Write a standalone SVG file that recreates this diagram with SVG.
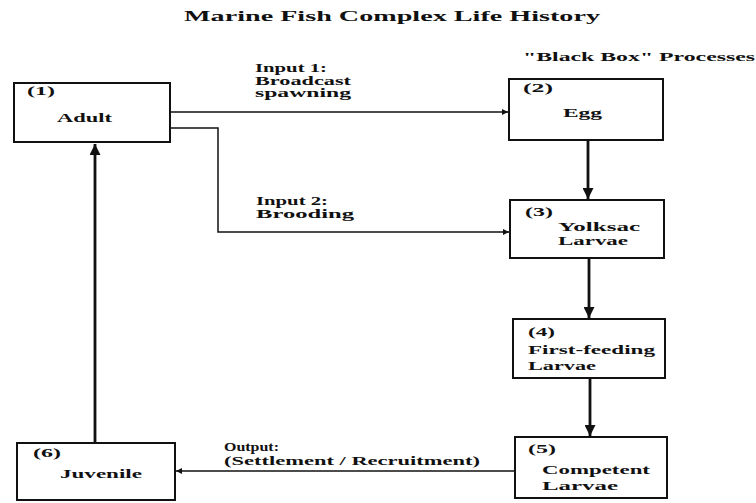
<svg xmlns="http://www.w3.org/2000/svg" width="756" height="503" viewBox="0 0 756 503">
<style>
text{font-family:"Liberation Serif","Times New Roman",serif;font-weight:bold;fill:#111;font-size:13px}
.title{font-size:15px}
.lbl{font-size:11.5px}
.box{fill:#fff;stroke:#111;stroke-width:2}
.thin{fill:none;stroke:#111;stroke-width:1.5}
.thick{fill:none;stroke:#111;stroke-width:2.8}
</style>
<defs>
<marker id="ah" viewBox="0 0 10 10" refX="10" refY="5" markerWidth="12" markerHeight="6" markerUnits="userSpaceOnUse" orient="auto"><path d="M0,0L10,5L0,10z" fill="#111"/></marker>
<marker id="ahb" viewBox="0 0 10 10" refX="10" refY="5" markerWidth="14" markerHeight="11" markerUnits="userSpaceOnUse" orient="auto"><path d="M0,0L10,5L0,10z" fill="#111"/></marker>
</defs>
<rect width="756" height="503" fill="#fff"/>
<text class="title" x="184" y="21" textLength="416" lengthAdjust="spacingAndGlyphs">Marine Fish Complex Life History</text>
<text x="523" y="61" textLength="232" lengthAdjust="spacingAndGlyphs">"Black Box" Processes</text>
<g id="connectors">
<path class="thin" d="M170,112H508" marker-end="url(#ah)"/>
<path class="thin" d="M170,128H218V232H509" marker-end="url(#ah)"/>
<path class="thick" d="M588,140V199" marker-end="url(#ahb)"/>
<path class="thick" d="M589,258V318" marker-end="url(#ahb)"/>
<path class="thick" d="M590,378V436" marker-end="url(#ahb)"/>
<path class="thin" d="M515,471H176" marker-end="url(#ah)"/>
<path class="thick" d="M95,443V144" marker-end="url(#ahb)"/>
<text class="lbl" x="255" y="72" textLength="72" lengthAdjust="spacingAndGlyphs">Input 1:</text>
<text class="lbl" x="255" y="85" textLength="96" lengthAdjust="spacingAndGlyphs">Broadcast</text>
<text class="lbl" x="255" y="97" textLength="96" lengthAdjust="spacingAndGlyphs">spawning</text>
<text class="lbl" x="256" y="205" textLength="72" lengthAdjust="spacingAndGlyphs">Input 2:</text>
<text class="lbl" x="256" y="218" textLength="98" lengthAdjust="spacingAndGlyphs">Brooding</text>
<text class="lbl" x="224" y="451" textLength="55" lengthAdjust="spacingAndGlyphs">Output:</text>
<text class="lbl" x="224" y="465" textLength="256" lengthAdjust="spacingAndGlyphs">(Settlement / Recruitment)</text>
</g>
<g id="n1"><rect class="box" x="14" y="83" width="156" height="59"/><text x="27" y="95" textLength="28" lengthAdjust="spacingAndGlyphs">(1)</text><text x="57" y="122" textLength="55" lengthAdjust="spacingAndGlyphs">Adult</text></g>
<g id="n2"><rect class="box" x="509" y="79" width="154" height="61"/><text x="523" y="92" textLength="30" lengthAdjust="spacingAndGlyphs">(2)</text><text x="563" y="117" textLength="39" lengthAdjust="spacingAndGlyphs">Egg</text></g>
<g id="n3"><rect class="box" x="510" y="200" width="154" height="58"/><text x="525" y="216" textLength="28" lengthAdjust="spacingAndGlyphs">(3)</text><text x="558" y="231" textLength="82" lengthAdjust="spacingAndGlyphs">Yolksac</text><text x="558" y="245" textLength="70" lengthAdjust="spacingAndGlyphs">Larvae</text></g>
<g id="n4"><rect class="box" x="513" y="319" width="152" height="59"/><text x="528" y="336" textLength="27" lengthAdjust="spacingAndGlyphs">(4)</text><text x="528" y="354" textLength="127" lengthAdjust="spacingAndGlyphs">First-feeding</text><text x="528" y="370" textLength="68" lengthAdjust="spacingAndGlyphs">Larvae</text></g>
<g id="n5"><rect class="box" x="515" y="437" width="152" height="61"/><text x="528" y="453" textLength="28" lengthAdjust="spacingAndGlyphs">(5)</text><text x="542" y="474" textLength="108" lengthAdjust="spacingAndGlyphs">Competent</text><text x="542" y="490" textLength="76" lengthAdjust="spacingAndGlyphs">Larvae</text></g>
<g id="n6"><rect class="box" x="17" y="443" width="158" height="57"/><text x="33" y="457" textLength="28" lengthAdjust="spacingAndGlyphs">(6)</text><text x="60" y="478" textLength="82" lengthAdjust="spacingAndGlyphs">Juvenile</text></g>
</svg>
